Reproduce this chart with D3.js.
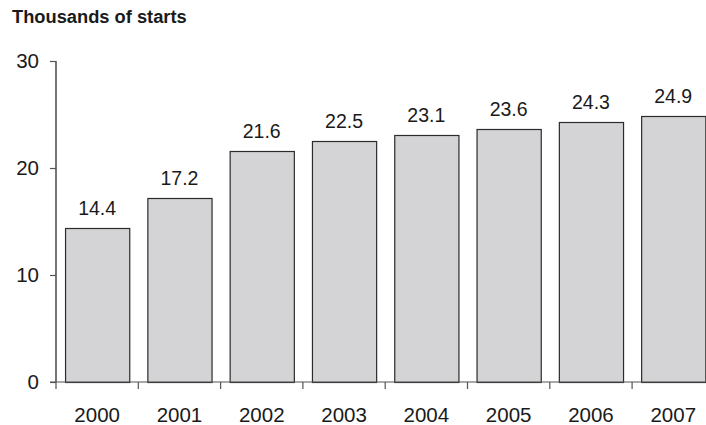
<!DOCTYPE html>
<html><head><meta charset="utf-8">
<script src="https://cdn.jsdelivr.net/npm/d3@7/dist/d3.min.js"></script>
<style>body{margin:0;background:#fff}svg{display:block}</style>
</head><body>
<svg id="c" width="706" height="425"></svg>
<script>
const years = ["2000","2001","2002","2003","2004","2005","2006","2007"];
const starts = [14.4, 17.2, 21.6, 22.5, 23.1, 23.6, 24.3, 24.9];
const yTicks = [0, 10, 20, 30];
const titleText = "Thousands of starts";

const svg = d3.select("#c");
const font = "'Liberation Sans', Arial, Helvetica, sans-serif";
const x0 = 56, bandW = 82.3;
const x = d3.scaleBand().domain(years).range([x0, x0 + bandW * years.length]).paddingInner(0.22).paddingOuter(0.11);
const y = d3.scaleLinear().domain([0, 30]).range([382, 61]);

svg.append("text").attr("x", 12).attr("y", 23).attr("font-family", font)
  .attr("font-weight", "bold").attr("font-size", 18.3).attr("fill", "#1a1a1a").text(titleText);

// bars
svg.append("g").selectAll("rect").data(starts).join("rect")
  .attr("x", (d, i) => x(years[i]) + 0.5)
  .attr("y", d => Math.round(y(d)) + 0.5)
  .attr("width", x.bandwidth())
  .attr("height", d => y(0) - Math.round(y(d)))
  .attr("fill", "#d4d4d6").attr("stroke", "#2b2b2b").attr("stroke-width", 1.2);

// value labels
svg.append("g").selectAll("text").data(starts).join("text")
  .attr("x", (d, i) => x(years[i]) + x.bandwidth() / 2)
  .attr("y", d => y(d) - 13)
  .attr("text-anchor", "middle").attr("font-family", font).attr("font-size", 19.5).attr("fill", "#1a1a1a")
  .text(d => d.toFixed(1));

// y axis
const ya = svg.append("g").attr("transform", `translate(${x0},0)`)
  .call(d3.axisLeft(y).tickValues(yTicks).tickSize(6).tickPadding(11).tickFormat(d3.format("d")));
ya.select(".domain").attr("stroke", "#1a1a1a").attr("stroke-width", 1.2).attr("d", `M0,${y(30)}V${y(0)}`);
ya.selectAll(".tick line").attr("stroke", "#555").attr("stroke-width", 1.2);
ya.selectAll(".tick text").attr("font-family", font).attr("font-size", 20.5).attr("fill", "#1a1a1a");

// x axis
const xa = svg.append("g").attr("transform", `translate(0,${y(0)})`)
  .call(d3.axisBottom(x).tickSize(0).tickPadding(25));
xa.select(".domain").attr("stroke", "#555").attr("stroke-width", 1.2).attr("d", `M50,0H706`);
xa.selectAll(".tick text").attr("font-family", font).attr("font-size", 20.5).attr("fill", "#1a1a1a");
// boundary ticks between bands
const bounds = d3.range(years.length).map(i => x(years[i]) - x.step() * x.paddingInner() / 2);
xa.append("g").selectAll("line").data(bounds).join("line")
  .attr("x1", d => d).attr("x2", d => d).attr("y1", 0).attr("y2", 7)
  .attr("stroke", "#555").attr("stroke-width", 1.2);
</script>
</body></html>
